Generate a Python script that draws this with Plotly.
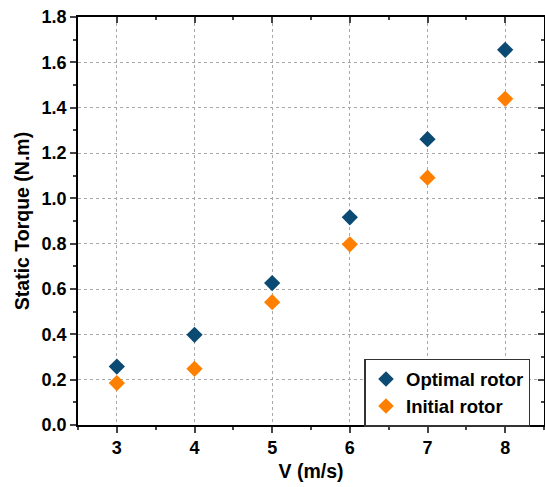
import plotly.graph_objects as go

speeds = [3, 4, 5, 6, 7, 8]
optimal_torque = [0.258, 0.398, 0.626, 0.916, 1.261, 1.655]
initial_torque = [0.185, 0.248, 0.542, 0.797, 1.091, 1.439]
series_names = ["Optimal rotor", "Initial rotor"]
x_title = "V (m/s)"
y_title = "Static Torque (N.m)"

FAM = "Liberation Sans, Arial"
font = dict(family=FAM, size=17, color="black")
tickfont = dict(family=FAM, size=18, color="black", weight="bold")
titlefont = dict(family=FAM, size=19.5, color="black", weight="bold")

fig = go.Figure()
fig.add_trace(go.Scatter(x=speeds, y=optimal_torque, mode="markers", name=series_names[0],
                         marker=dict(symbol="diamond", size=12.5, color="#0B4A72")))
fig.add_trace(go.Scatter(x=speeds, y=initial_torque, mode="markers", name=series_names[1],
                         marker=dict(symbol="diamond", size=12.5, color="#FF8000")))

grid = dict(showgrid=True, gridcolor="#A8A8A8", griddash="dot", gridwidth=1)

fig.update_layout(
    width=545, height=487,
    margin=dict(l=78, r=1, t=17, b=62),
    plot_bgcolor="white", paper_bgcolor="white",
    font=font,
    showlegend=True,
    legend=dict(x=0.971, y=0.162, xanchor="right", yanchor="top",
                bordercolor="#333333", borderwidth=1.5, bgcolor="white",
                font=dict(family=FAM, size=18.5, color="black", weight="bold"),
                itemsizing="constant", tracegroupgap=0),
    xaxis=dict(range=[2.5, 8.5], tickvals=speeds, ticks="outside", ticklen=6, tickwidth=1.5,
               showline=True, linecolor="black", linewidth=1.5,
               minor=dict(ticks="outside", ticklen=3, tickwidth=1.5, dtick=0.5, tick0=2.5, showgrid=False),
               title=dict(text=x_title, standoff=7, font=titlefont),
               tickfont=tickfont, zeroline=False, **grid),
    yaxis=dict(range=[0, 1.8], dtick=0.2, tickformat=".1f", ticks="outside", ticklen=6, tickwidth=1.5,
               showline=True, linecolor="black", linewidth=1.5,
               minor=dict(ticks="outside", ticklen=3, tickwidth=1.5, dtick=0.1, showgrid=False),
               title=dict(text=y_title, standoff=7, font=titlefont),
               tickfont=tickfont, zeroline=False, **grid),
    xaxis2=dict(overlaying="x", matches="x", side="top", range=[2.5, 8.5], tickvals=speeds,
                ticks="inside", ticklen=6, tickwidth=1.5, showticklabels=False,
                showline=True, linecolor="black", linewidth=1.5, showgrid=False, zeroline=False,
                minor=dict(ticks="inside", ticklen=3, tickwidth=1.5, dtick=0.5, tick0=2.5)),
    yaxis2=dict(overlaying="y", matches="y", side="right", range=[0, 1.8], dtick=0.2,
                ticks="inside", ticklen=6, tickwidth=1.5, showticklabels=False,
                showline=True, linecolor="black", linewidth=1.5, showgrid=False, zeroline=False,
                minor=dict(ticks="inside", ticklen=3, tickwidth=1.5, dtick=0.1)),
)

# invisible trace to anchor the mirrored axes
fig.add_trace(go.Scatter(x=[speeds[0]], y=[optimal_torque[0]], xaxis="x2", yaxis="y2",
                         mode="markers", marker=dict(opacity=0), showlegend=False, hoverinfo="skip"))

fig.write_html("out.html")
